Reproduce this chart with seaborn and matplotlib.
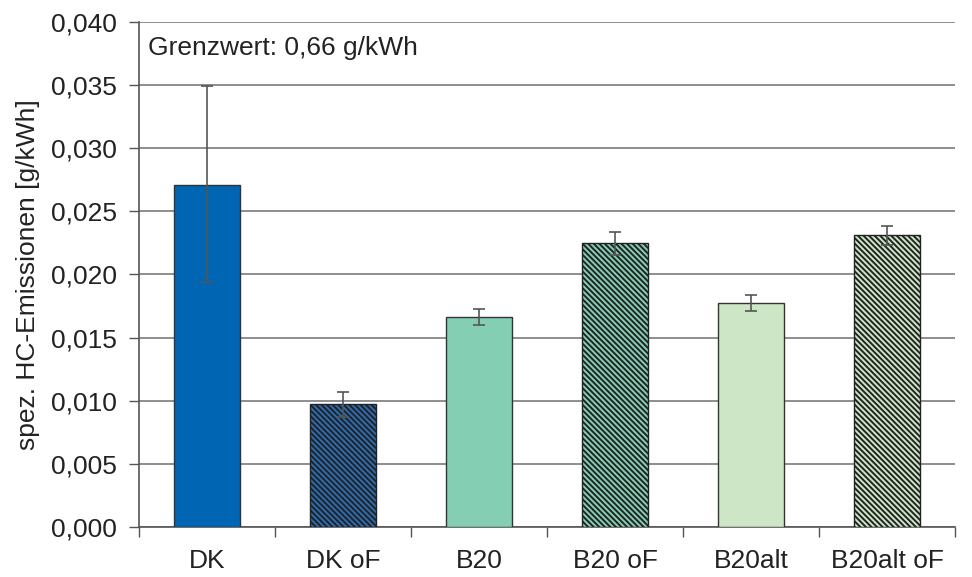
import numpy as np
import pandas as pd
import matplotlib.pyplot as plt
import seaborn as sns
from matplotlib.ticker import FixedLocator, FuncFormatter

# Dati
categorie = ['DK', 'DK oF', 'B20', 'B20 oF', 'B20alt', 'B20alt oF']
valori = [0.02707, 0.00974, 0.01662, 0.02247, 0.01773, 0.02310]
err_basso = [0.0194, 0.00874, 0.01602, 0.02154, 0.01711, 0.02234]
err_alto = [0.0349, 0.01072, 0.01724, 0.02339, 0.01838, 0.02387]
colori = ['#0066b3', '#2b6cb3', '#84cfb4', '#84cfb4', '#cde6c6', '#cde6c6']
tratteggio = ['', '\\\\\\\\\\\\', '', '\\\\\\\\\\\\', '', '\\\\\\\\\\\\']
y_ticks = [0.000, 0.005, 0.010, 0.015, 0.020, 0.025, 0.030, 0.035, 0.040]

sns.set_style('white')
plt.rcParams['font.family'] = ['Liberation Sans', 'DejaVu Sans']
plt.rcParams['hatch.linewidth'] = 1.4

df = pd.DataFrame({'categoria': categorie, 'valore': valori})

fig = plt.figure(figsize=(9.72, 5.77), dpi=100)
ax = fig.add_axes([0.143, 0.0867, 0.8395, 0.8752])

sns.barplot(data=df, x='categoria', y='valore', hue='categoria', palette=colori,
            saturation=1, width=0.49, edgecolor='#333333', linewidth=1.0,
            legend=False, ax=ax, zorder=3)

for patch, h in zip(ax.patches, tratteggio):
    if h:
        patch.set_hatch(h)
        patch.set_edgecolor('#222222')

x = np.arange(len(categorie))
v = np.array(valori)
yerr = [v - np.array(err_basso), np.array(err_alto) - v]
ax.errorbar(x, v, yerr=yerr, fmt='none', ecolor='#555555', elinewidth=1.2,
            capsize=4, capthick=1.2, zorder=4)

ax.set_ylim(0, 0.040)
ax.set_xlim(-0.5, len(categorie) - 0.5)
ax.yaxis.set_major_locator(FixedLocator(y_ticks))
ax.yaxis.set_major_formatter(FuncFormatter(lambda val, pos: f'{val:.3f}'.replace('.', ',')))
ax.grid(axis='y', color='#7a7a7a', linewidth=1.2, zorder=0)
ax.set_axisbelow(True)

for s in ['top', 'right']:
    ax.spines[s].set_visible(False)
for s in ['left', 'bottom']:
    ax.spines[s].set_color('#555555')
    ax.spines[s].set_linewidth(1.2)

ax.tick_params(axis='y', direction='out', length=7, width=1, color='#555555',
               labelsize=19, left=True, pad=9, labelcolor='#222222')
ax.tick_params(axis='x', which='major', length=0, labelsize=19, pad=16,
               labelcolor='#222222')
ax.set_xticks(np.arange(-0.5, len(categorie)), minor=True)
ax.tick_params(axis='x', which='minor', direction='out', length=7, width=1,
               color='#555555', bottom=True)

ax.set_xlabel('')
ax.set_ylabel('spez. HC-Emissionen [g/kWh]', fontsize=19, labelpad=8, color='#222222')

ax.text(0.011, 0.948, 'Grenzwert: 0,66 g/kWh', transform=ax.transAxes,
        fontsize=19, ha='left', va='center', color='#222222')

plt.savefig('out.png', dpi=100)
